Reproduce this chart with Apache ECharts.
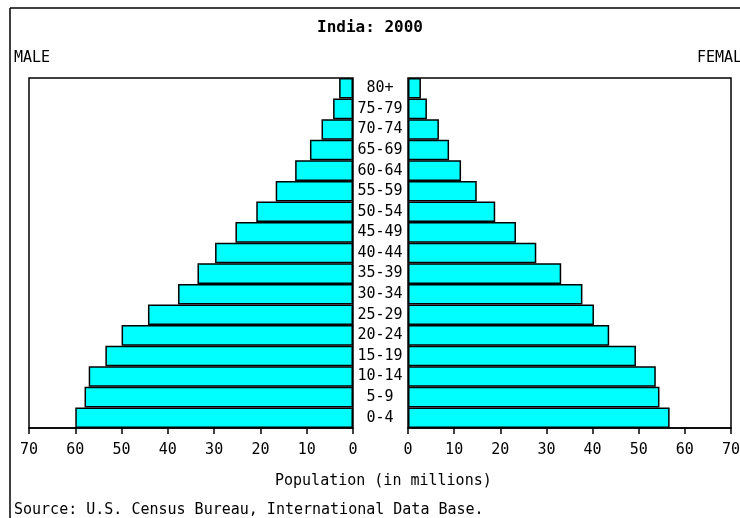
<!DOCTYPE html>
<html>
<head>
<meta charset="utf-8">
<script src="https://cdn.jsdelivr.net/npm/echarts@6/dist/echarts.min.js"></script>
</head>
<body style="margin:0;background:#fff">
<div id="main" style="width:740px;height:518px;"></div>
<script type="text/javascript">
// age groups, bottom to top
var ageGroups = ['0-4', '5-9', '10-14', '15-19', '20-24', '25-29', '30-34', '35-39',
  '40-44', '45-49', '50-54', '55-59', '60-64', '65-69', '70-74', '75-79', '80+'];
// millions
var male = [60.0, 58.0, 57.1, 53.5, 50.0, 44.3, 37.8, 33.6, 29.8, 25.4, 20.9, 16.7, 12.5, 9.3, 6.8, 4.3, 3.0];
var female = [56.7, 54.5, 53.7, 49.4, 43.6, 40.3, 37.8, 33.2, 27.8, 23.4, 18.9, 14.9, 11.5, 8.9, 6.7, 4.1, 2.8];

var font = 'DejaVu Sans Mono';
var myChart = echarts.init(document.getElementById('main'));

var xAx = function (idx, inverse) {
  return {
    type: 'value', gridIndex: idx, min: 0, max: 70, interval: 10, inverse: inverse,
    axisLine: { show: true, lineStyle: { color: '#000', width: 1.5 } },
    axisTick: { show: true, length: 6, lineStyle: { color: '#000', width: 1.5 } },
    axisLabel: { color: '#000', fontFamily: font, fontSize: 15, margin: 15 },
    splitLine: { show: false }
  };
};

var barStyle = { color: '#00ffff', borderColor: '#000', borderWidth: 1.5 };

option = {
  animation: false,
  backgroundColor: '#fff',
  title: [
    { text: 'India: 2000', left: 'center', top: 15,
      textStyle: { fontFamily: font, fontSize: 16, fontWeight: 'bold', color: '#000' } },
    { text: 'MALE', left: 9, top: 46,
      textStyle: { fontFamily: font, fontSize: 15, fontWeight: 'normal', color: '#000' } },
    { text: 'FEMALE', left: 692, top: 46,
      textStyle: { fontFamily: font, fontSize: 15, fontWeight: 'normal', color: '#000' } },
    { text: 'Population (in millions)', left: 270, top: 469,
      textStyle: { fontFamily: font, fontSize: 15, fontWeight: 'normal', color: '#000' } },
    { text: 'Source: U.S. Census Bureau, International Data Base.', left: 9, top: 498,
      textStyle: { fontFamily: font, fontSize: 15, fontWeight: 'normal', color: '#000' } }
  ],
  graphic: [
    { type: 'line', shape: { x1: 10, y1: 8, x2: 740, y2: 8 }, style: { stroke: '#000', lineWidth: 1.5 } },
    { type: 'line', shape: { x1: 10, y1: 8, x2: 10, y2: 518 }, style: { stroke: '#000', lineWidth: 1.5 } }
  ],
  grid: [
    { left: 29, right: 387, top: 78, bottom: 90, show: true, borderColor: '#000', borderWidth: 1.5,
      outerBoundsMode: 'none' },
    { left: 408, right: 9, top: 78, bottom: 90, show: true, borderColor: '#000', borderWidth: 1.5,
      outerBoundsMode: 'none' }
  ],
  xAxis: [xAx(0, true), xAx(1, false)],
  yAxis: [
    { type: 'category', gridIndex: 0, data: ageGroups, position: 'right',
      axisLine: { show: false }, axisTick: { show: false }, axisLabel: { show: false } },
    { type: 'category', gridIndex: 1, data: ageGroups, position: 'left',
      axisLine: { show: false }, axisTick: { show: false },
      axisLabel: { color: '#000', fontFamily: font, fontSize: 15, align: 'center', margin: 28 } }
  ],
  series: [
    { name: 'Male', type: 'bar', xAxisIndex: 0, yAxisIndex: 0, data: male,
      barCategoryGap: 0, itemStyle: barStyle },
    { name: 'Female', type: 'bar', xAxisIndex: 1, yAxisIndex: 1, data: female,
      barCategoryGap: 0, itemStyle: barStyle }
  ]
};

myChart.setOption(option);
</script>
</body>
</html>
